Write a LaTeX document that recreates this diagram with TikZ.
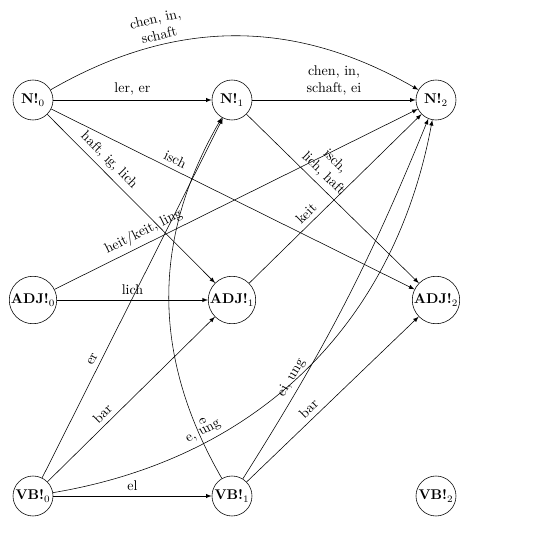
\documentclass[tikz,border=0pt]{standalone}
\usetikzlibrary{arrows}
\begin{document}
\begin{tikzpicture}[>=latex, every node/.style={align=center},
    state/.style={draw, circle, minimum size=1cm, inner sep=0.5pt}]
  \useasboundingbox (-0.825,2.5) rectangle (12.675,-10.9);

  % States: one row per word class, one column per step
  \foreach \cls/\y in {N/0, ADJ/-5, VB/-9.9} {
    \foreach \x [count=\i from 0] in {0, 4.975, 10.075} {
      \node[state] (\cls\i) at (\x,\y) {\textbf{\cls!}$_{\i}$};
    }
  }

  % Transitions out of the N states
  \draw[->] (N0) to[bend left=30] node[pos=0.3, sloped, above] {chen, in,\\schaft} (N2);
  \draw[->] (N0) -- node[above] {ler, er} (N1);
  \draw[->] (N0) -- node[pos=0.32, sloped, above] {haft, ig, lich} (ADJ1);
  \draw[->] (N0) -- node[pos=0.33, sloped, above] {isch} (ADJ2);
  \draw[->] (N1) -- node[above] {chen, in,\\schaft, ei} (N2);
  \draw[->] (N1) -- node[pos=0.4, sloped, above] {isch,\\lich, haft} (ADJ2);

  % Transitions out of the ADJ states
  \draw[->] (ADJ0) -- node[pos=0.26, sloped, above] {heit/keit, ling} (N2);
  \draw[->] (ADJ0) -- node[above] {lich} (ADJ1);
  \draw[->] (ADJ1) -- node[pos=0.37, sloped, above] {keit} (N2);

  % Transitions out of the VB states
  \draw[->] (VB0) -- node[pos=0.32, sloped, above] {er} (N1);
  \draw[->] (VB0) -- node[pos=0.37, sloped, above] {bar} (ADJ1);
  \draw[->] (VB0) to[bend right=35] node[pos=0.28, sloped, above] {e, ung} (N2);
  \draw[->] (VB0) -- node[above] {el} (VB1);
  \draw[->] (VB1) to[bend left=30] node[pos=0.15, sloped, above] {e} (N1);
  \draw[->] (VB1) to[bend right=5] node[pos=0.26, sloped, above] {ei, ung} (N2);
  \draw[->] (VB1) -- node[pos=0.4, sloped, above] {bar} (ADJ2);
\end{tikzpicture}
\end{document}
